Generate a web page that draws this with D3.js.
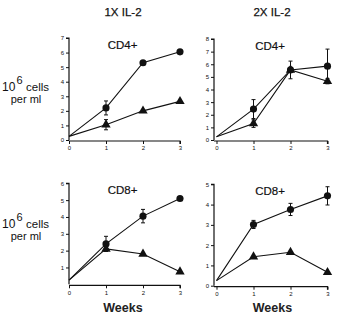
<!DOCTYPE html>
<html><head><meta charset="utf-8">
<script src="https://cdn.jsdelivr.net/npm/d3@7"></script>
<style>body{margin:0;background:#fff}svg{display:block}text{font-family:"Liberation Sans",Arial,sans-serif;fill:#111}</style>
</head><body><svg id="c" width="339" height="316"></svg>
<script>
const weeks = [0, 1, 2, 3];
const columnTitles = ["1X IL-2", "2X IL-2"];
const panelTitles = ["CD4+", "CD4+", "CD8+", "CD8+"];
const yMax = [7, 8, 6, 5];
const cd4_1x_circle = [0.25, 2.2, 5.3, 6.05];
const cd4_1x_circle_err = [0, 0.48, 0, 0];
const cd4_1x_tri = [0.25, 1.05, 2.0, 2.65];
const cd4_1x_tri_err = [0, 0.35, 0, 0];
const cd4_2x_circle = [0.25, 2.45, 5.55, 5.85];
const cd4_2x_circle_err = [0, 0.75, 0.7, 1.35];
const cd4_2x_tri = [0.25, 1.3, 5.55, 4.65];
const cd4_2x_tri_err = [0, 0.3, 0.2, 0.2];
const cd8_1x_circle = [0.25, 2.4, 4.05, 5.1];
const cd8_1x_circle_err = [0, 0.45, 0.4, 0];
const cd8_1x_tri = [0.25, 2.1, 1.8, 0.75];
const cd8_1x_tri_err = [0, 0, 0, 0];
const cd8_2x_circle = [0.25, 3.02, 3.76, 4.43];
const cd8_2x_circle_err = [0, 0.2, 0.3, 0.45];
const cd8_2x_tri = [0.25, 1.43, 1.65, 0.66];
const cd8_2x_tri_err = [0, 0, 0, 0];

const series = [
  [[cd4_1x_circle, cd4_1x_circle_err], [cd4_1x_tri, cd4_1x_tri_err]],
  [[cd4_2x_circle, cd4_2x_circle_err], [cd4_2x_tri, cd4_2x_tri_err]],
  [[cd8_1x_circle, cd8_1x_circle_err], [cd8_1x_tri, cd8_1x_tri_err]],
  [[cd8_2x_circle, cd8_2x_circle_err], [cd8_2x_tri, cd8_2x_tri_err]]
];

const layout = [
  {x0: 69, x1: 180, axX: 69, y0: 140, y1: 38, yTicks: d3.range(0, 8)},
  {x0: 216.5, x1: 327.5, axX: 214, y0: 140, y1: 39, yTicks: d3.range(0, 9)},
  {x0: 69, x1: 180, axX: 69, y0: 284.3, y1: 183.3, yTicks: d3.range(1, 7)},
  {x0: 216.5, x1: 327.5, axX: 214, y0: 285.7, y1: 184.3, yTicks: d3.range(0, 6)}
];

const svg = d3.select("#c");
const col = "#111";

layout.forEach((L, i) => {
  const x = d3.scaleLinear().domain([0, 3]).range([L.x0, L.x1]);
  const y = d3.scaleLinear().domain([0, yMax[i]]).range([L.y0, L.y1]);
  const g = svg.append("g");
  const ya = g.append("g").attr("transform", `translate(${L.axX},0)`)
    .call(d3.axisLeft(y).tickValues(L.yTicks).tickSize(3).tickPadding(2).tickFormat(d3.format("d")));
  ya.select(".domain").attr("d", `M-0,${L.y0}V${L.y1}H-3`).attr("stroke", col).attr("stroke-width", 1.2);
  ya.selectAll(".tick line").attr("stroke", col);
  ya.selectAll("text").style("font-size", "6px");
  const xa = g.append("g").attr("transform", `translate(0,${L.y0 + 1})`)
    .call(d3.axisBottom(x).tickValues(weeks).tickSize(3).tickPadding(2).tickFormat(d3.format("d")));
  xa.select(".domain").attr("d", `M${L.axX},0H${L.x1}V3`).attr("stroke", col).attr("stroke-width", 1.2);
  xa.selectAll(".tick line").attr("stroke", col);
  xa.selectAll("text").style("font-size", "6px");

  const line = d3.line().x((d, j) => x(weeks[j])).y(d => y(d));
  series[i].forEach(([vals, errs], s) => {
    g.append("path").attr("d", line(vals)).attr("fill", "none").attr("stroke", col).attr("stroke-width", 1.1);
    vals.forEach((v, j) => {
      if (errs[j] > 0) {
        const cx = x(weeks[j]);
        g.append("path")
          .attr("d", `M${cx},${y(v - errs[j])}V${y(v + errs[j])}M${cx - 2},${y(v - errs[j])}H${cx + 2}M${cx - 2},${y(v + errs[j])}H${cx + 2}`)
          .attr("stroke", col).attr("stroke-width", 1).attr("fill", "none");
      }
    });
    const pts = vals.slice(1).map((v, j) => [x(weeks[j + 1]), y(v)]);
    const sym = d3.symbol().type(s === 0 ? d3.symbolCircle : d3.symbolTriangle).size(s === 0 ? 40 : 38);
    g.selectAll(null).data(pts).join("path")
      .attr("transform", d => `translate(${d[0]},${d[1]})`)
      .attr("d", sym).attr("fill", col);
  });
  g.append("text").attr("x", (L.x0 + L.x1) / 2 - 2).attr("y", L.y1 + 11)
    .attr("text-anchor", "middle").style("font-size", "11.5px").style("stroke", "#111").style("stroke-width", 0.2).text(panelTitles[i]);
});

columnTitles.forEach((t, i) => {
  svg.append("text").attr("x", i === 0 ? 123 : 272).attr("y", 16)
    .attr("text-anchor", "middle").style("font-size", "11.5px").style("stroke", "#111").style("stroke-width", 0.25).text(t);
});
[123, 272.5].forEach(cx => {
  svg.append("text").attr("x", cx).attr("y", 311.5).attr("text-anchor", "middle")
    .style("font-size", "12.5px").style("font-weight", "bold").style("fill", "#222").text("Weeks");
});
[91, 228].forEach(by => {
  svg.append("text").attr("x", 2).attr("y", by).style("font-size", "12px").text("10");
  svg.append("text").attr("x", 16.5).attr("y", by - 7).style("font-size", "11px").text("6");
  svg.append("text").attr("x", 26).attr("y", by).style("font-size", "11.5px").text("cells");
  svg.append("text").attr("x", 26).attr("y", by + 11.5).attr("text-anchor", "middle")
    .style("font-size", "11px").text("per ml");
});
</script></body></html>
